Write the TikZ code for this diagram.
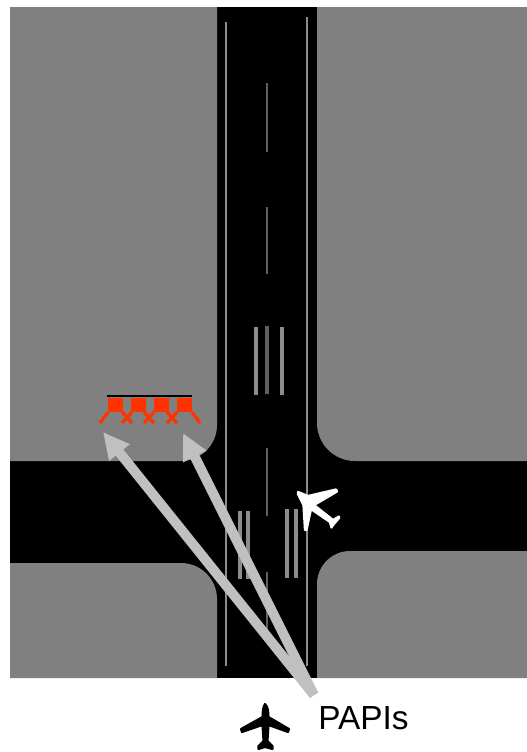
\documentclass[tikz,border=0pt]{standalone}
\usepackage{fontspec}
\setmainfont{Liberation Sans}
\usetikzlibrary{arrows.meta}
\definecolor{ground}{HTML}{808080}
\definecolor{paintdim}{HTML}{606060}
\definecolor{paint}{HTML}{8C8C8C}
\definecolor{papired}{HTML}{FF3300}
\definecolor{pointer}{HTML}{C0C0C0}
\tikzset{
  block/.style={fill=ground,draw=none},
  edgeline/.style={draw=paint,line width=0.85pt},
  dashline/.style={draw=paintdim,line width=1.3pt},
  barline/.style={draw=paint,line width=2.1pt},
  barlinedim/.style={draw=paintdim,line width=1.8pt},
  papileg/.style={draw=papired,line width=1.9pt},
  pointerarrow/.style={draw=pointer,line width=5.6pt,-{Triangle[length=15pt,width=14pt,fill=pointer]}}
}
\begin{document}
\begin{tikzpicture}[x=0.02cm,y=-0.02cm]
\useasboundingbox (0,0) rectangle (527,752);
\fill[white] (0,0) rectangle (527,752);
\fill[black] (10,7) rectangle (527,678);
% grass blocks
\path[block] (10,7) -- (217,7) -- (217,425) arc[start angle=0,end angle=90,radius=36] -- (10,461) -- cycle;
\path[block] (317,7) -- (527,7) -- (527,461) -- (355,461) arc[start angle=90,end angle=180,radius=38] -- cycle;
\path[block] (10,563) -- (181,563) arc[start angle=-90,end angle=0,radius=36] -- (217,678) -- (10,678) -- cycle;
\path[block] (527,551) -- (350,551) arc[start angle=-90,end angle=-180,radius=33] -- (317,678) -- (527,678) -- cycle;
% runway markings
\draw[edgeline] (226,22) -- (226,666);
\draw[edgeline] (307,17) -- (307,666);
\foreach \a/\b in {83/152,207/274,448/516,572/640}
  \draw[dashline] (267,\a) -- (267,\b);
\draw[barline] (256,327) -- (256,395);
\draw[barlinedim] (267,326) -- (267,394);
\draw[barline] (282,327) -- (282,395);
\draw[barline] (240,511) -- (240,579);
\draw[barline] (248,511) -- (248,579);
\draw[barline] (287,509) -- (287,578);
\draw[barline] (296,509) -- (296,578);
% PAPI
\draw[black,line width=1pt] (107,396) -- (192,396);
\foreach \x in {108,131,154,177}
  \fill[papired] (\x,397.5) rectangle +(15,14.5);
\draw[papileg] (108,412) -- (100,423);
\draw[papileg] (192,412) -- (200,423);
\foreach \x in {127,149,172}{
  \draw[papileg] (\x-5,412) -- (\x+5,423);
  \draw[papileg] (\x+5,412) -- (\x-5,423);
}
% white aircraft
\fill[white,draw=white,line width=1.3pt,line join=round]
  (298,492) -- (308,496) -- (336,489.5) -- (337,491.5) -- (314,505)
  -- (333,520) -- (339,516.5) -- (339,518) -- (333,525) -- (331.5,527.5)
  -- (330,522) -- (311,509) -- (306.5,530) -- (305,530) -- (303.5,505) -- (298,494) -- cycle;
% pointers
\coordinate (src) at (314,695);
\coordinate (tipa) at (103,432);
\coordinate (tipb) at (183,433);
\draw[pointerarrow] (src) -- (tipa);
\draw[pointerarrow] (src) -- (tipb);
% black aircraft
\fill[black,draw=black,line width=1.2pt,line join=round]
  (265,704) .. controls (267.5,706) and (268.5,711) .. (268.5,717)
  -- (289,729) -- (288,732) -- (268.5,725) -- (267.5,741) -- (272.5,746) -- (272.5,749)
  -- (265,747) -- (258.5,749) -- (258.5,746) -- (263.5,741) -- (262.5,725)
  -- (242,732) -- (241,729) -- (262.5,717)
  .. controls (262.5,711) and (263.5,706) .. (265,704) -- cycle;
\node[anchor=base west,inner sep=0pt,font=\fontsize{19}{21}\selectfont] (label) at (318,729) {PAPIs};
\end{tikzpicture}
\end{document}
